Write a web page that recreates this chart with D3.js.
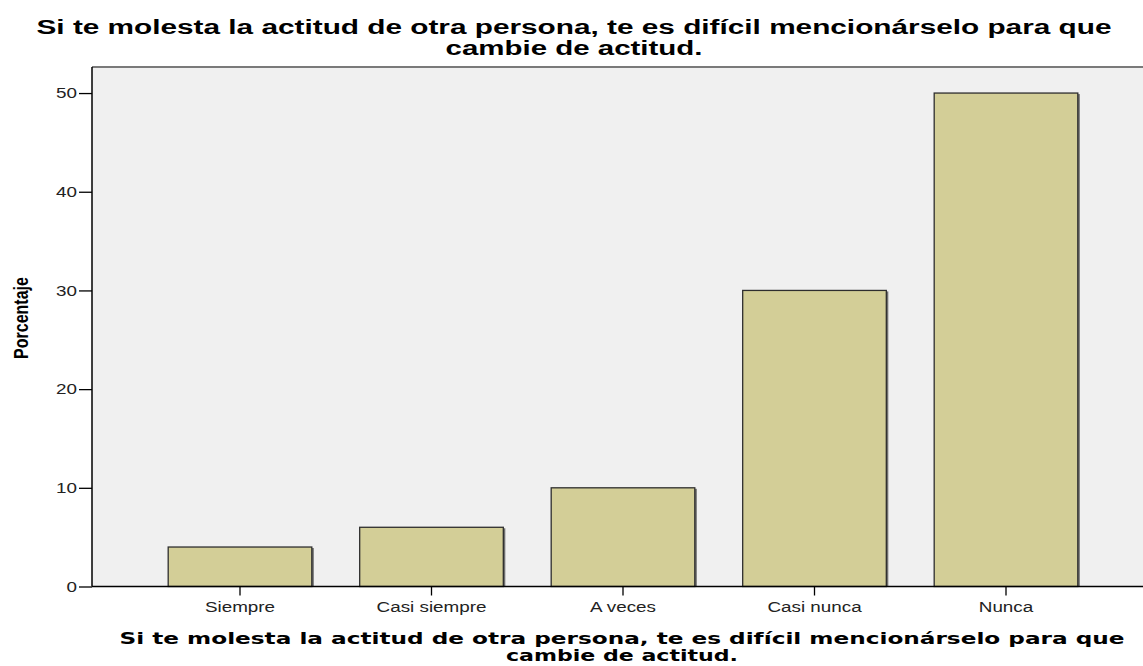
<!DOCTYPE html>
<html>
<head>
<meta charset="utf-8">
<script src="https://cdn.jsdelivr.net/npm/d3@7.9.0/dist/d3.min.js"></script>
<style>
  body { margin: 0; background: #fff; }
  svg { display: block; }
</style>
</head>
<body>
<div id="chart"></div>
<script>
// Data
const categories = ['Siempre', 'Casi siempre', 'A veces', 'Casi nunca', 'Nunca'];
const percents = [4, 6, 10, 30, 50];
const yTicks = [0, 10, 20, 30, 40, 50];
const titleLines = ['Si te molesta la actitud de otra persona, te es difícil mencionárselo para que', 'cambie de actitud.'];
const yLabel = 'Porcentaje';

const width = 1143;
const height = 666;
const stretch = 1.3; // the picture is stretched horizontally

const plot = { left: 92, top: 67, right: 1150, bottom: 586.5 };

const svg = d3.select('#chart').append('svg')
  .attr('width', width)
  .attr('height', height);

// Scales
const xScale = d3.scaleBand()
  .domain(categories)
  .range([144.25, 1101.75])
  .paddingInner(0.25)
  .paddingOuter(0.125);

const yScale = d3.scaleLinear()
  .domain([0, 52.64])
  .range([plot.bottom, plot.top]);

// Plot background
svg.append('rect')
  .attr('x', plot.left)
  .attr('y', plot.top)
  .attr('width', plot.right - plot.left)
  .attr('height', plot.bottom - plot.top)
  .attr('fill', '#f0f0f0');

// top border
svg.append('line')
  .attr('x1', plot.left).attr('x2', plot.right)
  .attr('y1', plot.top).attr('y2', plot.top)
  .attr('stroke', '#7a7a7a')
  .attr('stroke-width', 2);

// Bars (shadow + bar)
const bars = svg.append('g').attr('class', 'bars');
bars.selectAll('rect.shadow')
  .data(percents)
  .join('rect')
  .attr('class', 'shadow')
  .attr('x', (d, i) => xScale(categories[i]) + 2)
  .attr('y', d => yScale(d) + 1)
  .attr('width', xScale.bandwidth())
  .attr('height', d => plot.bottom - yScale(d) - 1)
  .attr('fill', '#6e6e6e');

bars.selectAll('rect.bar')
  .data(percents)
  .join('rect')
  .attr('class', 'bar')
  .attr('x', (d, i) => xScale(categories[i]))
  .attr('y', d => yScale(d))
  .attr('width', xScale.bandwidth())
  .attr('height', d => plot.bottom - yScale(d))
  .attr('fill', '#d3ce97')
  .attr('stroke', '#2e2e2e')
  .attr('stroke-width', 1.3);

// helper for horizontally stretched text
function stretchedText(g, x, y, txt, anchor) {
  return g.append('text')
    .attr('transform', `translate(${x},${y}) scale(${stretch},1)`)
    .attr('text-anchor', anchor)
    .text(txt);
}

// Y axis
const yAxis = d3.axisLeft(yScale).tickValues(yTicks).tickSize(13).tickFormat('');
const yG = svg.append('g')
  .attr('transform', `translate(${plot.left},0)`)
  .call(yAxis);
yG.select('.domain').remove();
yG.selectAll('.tick line').attr('stroke', '#000').attr('stroke-width', 1.3);
svg.append('line')
  .attr('x1', plot.left).attr('x2', plot.left)
  .attr('y1', plot.top).attr('y2', plot.bottom)
  .attr('stroke', '#000').attr('stroke-width', 1.5);

const yLabels = svg.append('g')
  .attr('font-family', 'Liberation Sans, Arial, sans-serif')
  .attr('font-size', 14.5)
  .attr('fill', '#222');
yTicks.forEach(t => stretchedText(yLabels, 77, yScale(t) + 5.2, t, 'end'));

// X axis
const xAxis = d3.axisBottom(xScale).tickSize(9).tickFormat('');
const xG = svg.append('g')
  .attr('transform', `translate(0,${plot.bottom})`)
  .call(xAxis);
xG.select('.domain').remove();
xG.selectAll('.tick line').attr('stroke', '#000').attr('stroke-width', 1.3);
svg.append('line')
  .attr('x1', plot.left).attr('x2', plot.right)
  .attr('y1', plot.bottom).attr('y2', plot.bottom)
  .attr('stroke', '#000').attr('stroke-width', 1.5);

const xLabels = svg.append('g')
  .attr('font-family', 'Liberation Sans, Arial, sans-serif')
  .attr('font-size', 14.5)
  .attr('fill', '#222');
categories.forEach(c => stretchedText(xLabels, xScale(c) + xScale.bandwidth() / 2, 611.5, c, 'middle'));

// Y axis title
svg.append('text')
  .attr('transform', `translate(28,318) scale(${stretch},1) rotate(-90)`)
  .attr('text-anchor', 'middle')
  .attr('font-family', 'Liberation Sans, Arial, sans-serif')
  .attr('font-weight', 'bold')
  .attr('font-size', 16)
  .text(yLabel);

// Chart title (top)
const topWidths = [1075, 257];
const topBase = [34, 55];
titleLines.forEach((line, i) => {
  svg.append('text')
    .attr('x', 574)
    .attr('y', topBase[i])
    .attr('text-anchor', 'middle')
    .attr('font-family', 'Liberation Sans, Arial, sans-serif')
    .attr('font-weight', 'bold')
    .attr('font-size', 20)
    .attr('textLength', topWidths[i])
    .attr('lengthAdjust', 'spacingAndGlyphs')
    .text(line);
});

// X axis title (bottom)
const botWidths = [1005, 232];
const botBase = [644, 661];
titleLines.forEach((line, i) => {
  svg.append('text')
    .attr('x', 622)
    .attr('y', botBase[i])
    .attr('text-anchor', 'middle')
    .attr('font-family', 'DejaVu Sans, Verdana, sans-serif')
    .attr('font-weight', 'bold')
    .attr('font-size', 16)
    .attr('textLength', botWidths[i])
    .attr('lengthAdjust', 'spacingAndGlyphs')
    .text(line);
});
</script>
</body>
</html>
